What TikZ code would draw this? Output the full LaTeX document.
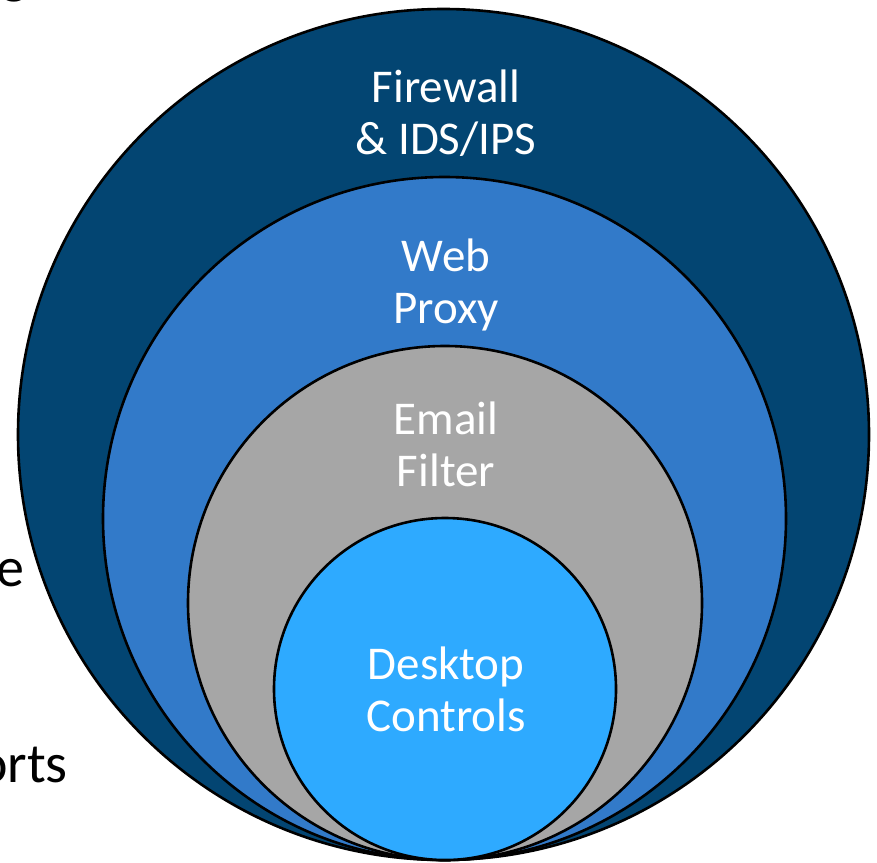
\documentclass[tikz,border=0pt]{standalone}
\usepackage{fontspec}
\setmainfont{Carlito}
\definecolor{ringfw}{RGB}{3,69,114}
\definecolor{ringproxy}{RGB}{50,122,201}
\definecolor{ringmail}{RGB}{166,166,166}
\definecolor{ringdesk}{RGB}{46,170,255}
\begin{document}
\begin{tikzpicture}[x=1pt,y=-1pt,
  ring/.style={draw=black,line width=2.6pt},
  ringlabel/.style={text=white,align=center,inner sep=0pt,
    font=\fontsize{47}{52}\selectfont},
  bgtext/.style={text=black,inner sep=0pt,anchor=base east,
    font=\fontsize{56}{66}\selectfont}]
\useasboundingbox (0,0) rectangle (877,862);
% fragments of surrounding text
\node[bgtext] (tA) at (50,-7) {gs};
\node[bgtext] (tB) at (25,586) {e};
\node[bgtext] (tC) at (68,782) {orts};
% nested rings, all touching at the bottom
\fill[ringfw]    (443.5,434.5) circle (425.5);
\draw[ring]      (443.5,434.5) circle (425.5);
\fill[ringproxy] (444.5,518.5) circle (341.5);
\draw[ring]      (444.5,518.5) circle (341.5);
\fill[ringmail]  (445,603) circle (257);
\draw[ring]      (445,603) circle (257);
\fill[ringdesk]  (445,689) circle (171);
\draw[ring]      (445,689) circle (171);
% labels
\node[ringlabel] (fw)    at (446,113.5) {Firewall\\\& IDS/IPS};
\node[ringlabel] (proxy) at (446,284.5) {Web\\Proxy};
\node[ringlabel] (mail)  at (446,444.5) {Email\\Filter};
\node[ringlabel] (desk)  at (446,689.5) {Desktop\\Controls};
\end{tikzpicture}
\end{document}
